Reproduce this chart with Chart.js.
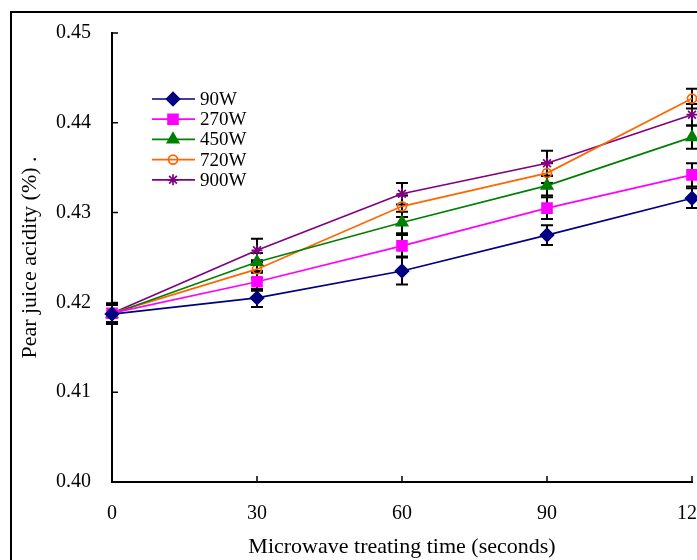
<!DOCTYPE html>
<html>
<head>
<meta charset="utf-8">
<script src="https://cdn.jsdelivr.net/npm/chart.js@4/dist/chart.umd.min.js"></script>
<style>
  html, body { margin: 0; padding: 0; background: #fff; overflow: hidden; }
  #wrap { position: absolute; left: 0; top: 0; width: 760px; height: 560px; }
</style>
</head>
<body>
<div id="wrap"><canvas id="c" width="760" height="560"></canvas></div>
<script>
// ---- data ----
const times = [0, 30, 60, 90, 120];
const yTicks = [0.40, 0.41, 0.42, 0.43, 0.44, 0.45];
const seriesNames = ['90W', '270W', '450W', '720W', '900W'];

const w90  = [0.4187, 0.4205, 0.4235, 0.4275, 0.4316];
const w270 = [0.4188, 0.4223, 0.4263, 0.4305, 0.4342];
const w450 = [0.4187, 0.4245, 0.4289, 0.4330, 0.4384];
const w720 = [0.4188, 0.4237, 0.4307, 0.4344, 0.4427];
const w900 = [0.4188, 0.4258, 0.4321, 0.4355, 0.4409];

const e90  = [0.0011, 0.0010, 0.0015, 0.0011, 0.0011];
const e270 = [0.0010, 0.0010, 0.0012, 0.0012, 0.0013];
const e450 = [0.0010, 0.0010, 0.0012, 0.0011, 0.0013];
const e720 = [0.0010, 0.0010, 0.0012, 0.0011, 0.0011];
const e900 = [0.0011, 0.0013, 0.0012, 0.0014, 0.0012];

const FONT = 'Liberation Serif, Times New Roman, serif';

function pts(vals) { return times.map((t, i) => ({x: t, y: vals[i]})); }

const datasets = [
  {label: seriesNames[0], data: pts(w90),  err: e90,  borderColor: '#000080', backgroundColor: '#000080', pointStyle: 'rectRot', pointRadius: 6.5},
  {label: seriesNames[1], data: pts(w270), err: e270, borderColor: '#FF00FF', backgroundColor: '#FF00FF', pointStyle: 'rect', pointRadius: 7},
  {label: seriesNames[2], data: pts(w450), err: e450, borderColor: '#008000', backgroundColor: '#008000', pointStyle: 'triangle', pointRadius: 6.5},
  {label: seriesNames[3], data: pts(w720), err: e720, borderColor: '#FF6600', backgroundColor: 'rgba(0,0,0,0)', pointStyle: 'circle', pointRadius: 4.5},
  {label: seriesNames[4], data: pts(w900), err: e900, borderColor: '#800080', backgroundColor: '#800080', pointStyle: 'star', pointRadius: 5.5}
].map(d => Object.assign({
  borderWidth: 1.7, pointBorderWidth: 1.7, tension: 0, fill: false, clip: false,
  pointBorderColor: d.borderColor, pointBackgroundColor: d.backgroundColor
}, d));

const framePlugin = {
  id: 'frame',
  beforeDraw(chart) {
    const ctx = chart.ctx;
    ctx.save();
    ctx.strokeStyle = '#000';
    ctx.lineWidth = 2;
    ctx.beginPath();
    ctx.moveTo(11, 600);
    ctx.lineTo(11, 12);
    ctx.lineTo(800, 12);
    ctx.stroke();
    ctx.restore();
  }
};

const errorBarPlugin = {
  id: 'errbars',
  beforeDatasetsDraw(chart) {
    const ctx = chart.ctx;
    const xs = chart.scales.x, ys = chart.scales.y;
    ctx.save();
    ctx.strokeStyle = '#000';
    ctx.lineWidth = 2;
    chart.data.datasets.forEach(ds => {
      ds.data.forEach((p, i) => {
        const e = ds.err[i];
        const px = xs.getPixelForValue(p.x);
        const top = ys.getPixelForValue(p.y + e);
        const bot = ys.getPixelForValue(p.y - e);
        ctx.beginPath();
        ctx.moveTo(px, top); ctx.lineTo(px, bot);
        ctx.moveTo(px - 6, top); ctx.lineTo(px + 6, top);
        ctx.moveTo(px - 6, bot); ctx.lineTo(px + 6, bot);
        ctx.stroke();
      });
    });
    ctx.restore();
  }
};

const tickPlugin = {
  id: 'inticks',
  afterDraw(chart) {
    const ctx = chart.ctx;
    const xs = chart.scales.x, ys = chart.scales.y;
    const a = chart.chartArea;
    ctx.save();
    ctx.strokeStyle = '#000';
    ctx.lineWidth = 1.5;
    ctx.beginPath();
    xs.ticks.forEach(t => {
      const px = xs.getPixelForValue(t.value);
      ctx.moveTo(px, a.bottom); ctx.lineTo(px, a.bottom - 6);
    });
    ys.ticks.forEach(t => {
      const py = ys.getPixelForValue(t.value);
      ctx.moveTo(a.left, py); ctx.lineTo(a.left + 6, py);
    });
    ctx.stroke();
    ctx.restore();
  }
};

const legendPlugin = {
  id: 'inlegend',
  afterDraw(chart) {
    const ctx = chart.ctx;
    ctx.save();
    chart.data.datasets.forEach((ds, i) => {
      const y = 99 + 20.2 * i;
      ctx.strokeStyle = ds.borderColor;
      ctx.lineWidth = 1.7;
      ctx.beginPath();
      ctx.moveTo(152, y); ctx.lineTo(195, y);
      ctx.stroke();
      ctx.fillStyle = ds.pointBackgroundColor;
      ctx.strokeStyle = ds.pointBorderColor;
      ctx.lineWidth = ds.pointBorderWidth;
      Chart.helpers.drawPoint(ctx, {pointStyle: ds.pointStyle, radius: ds.pointRadius, rotation: 0, borderWidth: ds.pointBorderWidth}, 173, y);
      ctx.fillStyle = '#000';
      ctx.font = '19px ' + FONT;
      ctx.textAlign = 'left';
      ctx.textBaseline = 'middle';
      ctx.fillText(ds.label, 200, y + 1);
    });
    ctx.restore();
  }
};

new Chart(document.getElementById('c'), {
  type: 'line',
  data: {datasets},
  options: {
    responsive: false,
    animation: false,
    layout: {padding: {left: 0, top: 31, right: 68, bottom: 0}},
    plugins: {legend: {display: false}, tooltip: {enabled: false}},
    scales: {
      x: {
        type: 'linear', min: 0, max: 120,
        afterFit(s) { s.height = 78; },
        afterBuildTicks(s) { s.ticks = times.map(v => ({value: v})); },
        grid: {display: false, drawTicks: false},
        border: {display: true, color: '#000', width: 2},
        ticks: {color: '#000', padding: 20, font: {family: FONT, size: 20}, maxRotation: 0},
        title: {display: true, text: 'Microwave treating time (seconds)', color: '#000',
                font: {family: FONT, size: 22}, padding: {top: 0, bottom: 0}}
      },
      y: {
        type: 'linear', min: 0.40, max: 0.45,
        afterFit(s) { s.width = 112; },
        afterBuildTicks(s) { s.ticks = yTicks.map(v => ({value: v})); },
        grid: {display: false, drawTicks: false},
        border: {display: true, color: '#000', width: 2},
        ticks: {color: '#000', padding: 21, font: {family: FONT, size: 20},
                callback: v => Number(v).toFixed(2)},
        title: {display: true, text: 'Pear juice acidity (%) .', color: '#000',
                font: {family: FONT, size: 22}, padding: {top: 17, bottom: 0}}
      }
    }
  },
  plugins: [framePlugin, errorBarPlugin, tickPlugin, legendPlugin]
});
</script>
</body>
</html>
